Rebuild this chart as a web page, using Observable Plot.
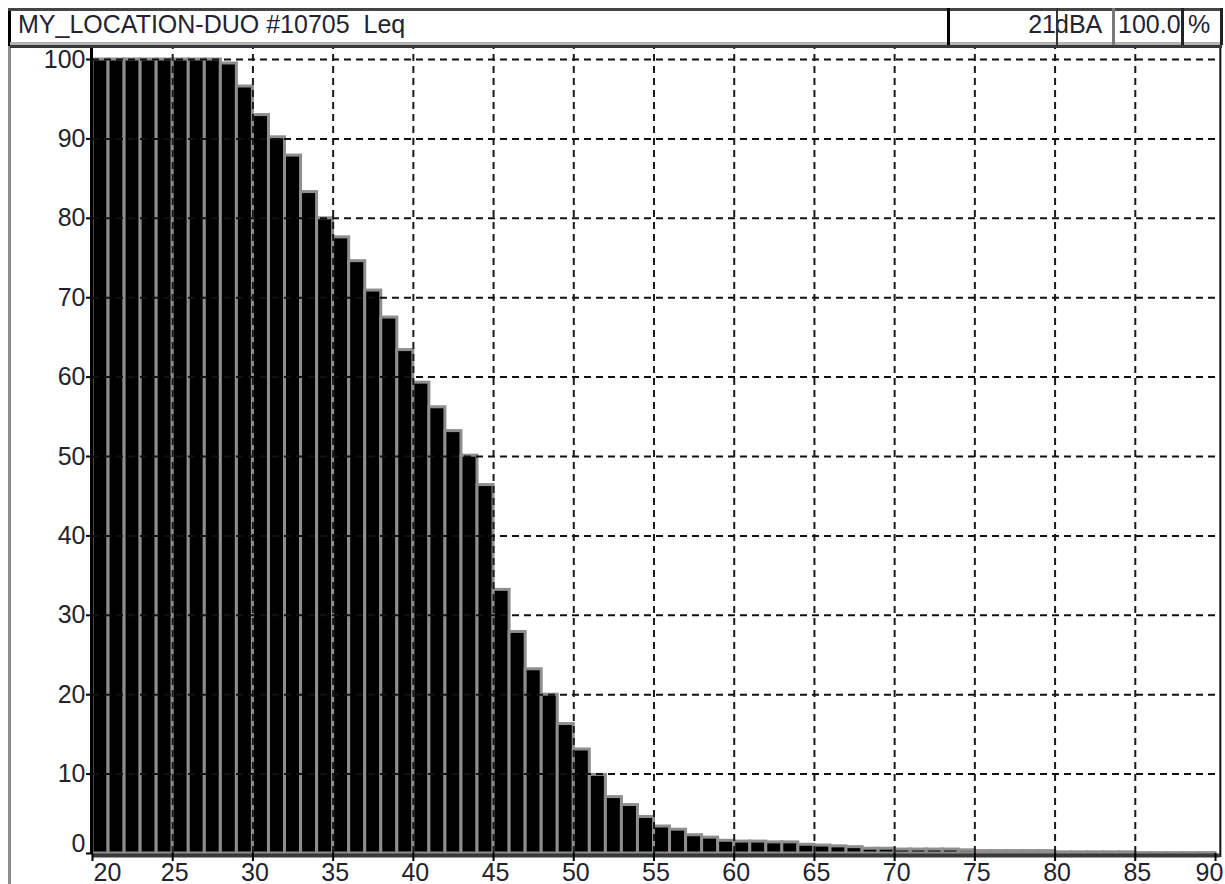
<!DOCTYPE html>
<html>
<head>
<meta charset="utf-8">
<script src="https://cdn.jsdelivr.net/npm/d3@7"></script>
<script src="https://cdn.jsdelivr.net/npm/@observablehq/plot@0.6"></script>
<style>
  html, body { margin: 0; padding: 0; background: #fff; }
  body { width: 1225px; height: 884px; position: relative; overflow: hidden;
         font-family: "Liberation Sans", Arial, sans-serif; }
  #header { position: relative; height: 46px; }
  .ln { position: absolute; z-index: 3; }
  .tx { position: absolute; font-size: 25px; line-height: 25px; color: #23232f; white-space: pre; z-index: 2; }
  #chart { position: relative; }
</style>
</head>
<body>
<div id="header"></div>
<div id="chart"></div>
<script>
// ---- data ----
const title = "MY_LOCATION-DUO #10705  Leq";
const levelValue = "21";
const levelUnit = "dBA";
const percentValue = "100.0";
const percentUnit = "%";

const levels = [20,21,22,23,24,25,26,27,28,29,30,31,32,33,34,35,36,37,38,39,
                40,41,42,43,44,45,46,47,48,49,50,51,52,53,54,55,56,57,58,59,
                60,61,62,63,64,65,66,67,68,69,70,71,72,73,74,75,76,77,78,79,
                80,81,82,83,84,85,86,87,88,89];
const cumulativePct = [100,100,100,100,100,100,100,100,99.5,96.6,
                       93.0,90.2,87.9,83.3,80.0,77.6,74.6,70.9,67.5,63.4,
                       59.3,56.2,53.2,50.1,46.4,33.2,27.9,23.2,20.0,16.3,
                       13.1,9.9,7.1,6.1,4.6,3.4,3.0,2.3,2.0,1.6,
                       1.5,1.5,1.4,1.4,1.1,1.0,0.9,0.8,0.6,0.6,
                       0.5,0.5,0.5,0.5,0.4,0.3,0.3,0.3,0.3,0.3,
                       0.15,0.15,0.15,0.15,0.15,0.05,0.05,0.05,0.05,0.05];
const xTicks = [20,25,30,35,40,45,50,55,60,65,70,75,80,85,90];
const yTicks = [0,10,20,30,40,50,60,70,80,90,100];

const data = levels.map((db, i) => ({db, pct: cumulativePct[i]}));

// ---- header (HTML) ----
const header = document.getElementById("header");
function line(l, t, w, h, c) {
  const d = document.createElement("div");
  d.className = "ln";
  Object.assign(d.style, {left: l + "px", top: t + "px", width: w + "px", height: h + "px", background: c});
  document.body.appendChild(d);
}
function text(str, opts) {
  const d = document.createElement("div");
  d.className = "tx";
  d.textContent = str;
  Object.assign(d.style, opts);
  header.appendChild(d);
}
text(title, {left: "18px", top: "12px"});
text(levelValue, {right: (1225 - 1056) + "px", top: "12px", textAlign: "right"});
text(levelUnit, {left: "1055px", top: "12px"});
text(percentValue, {left: "1118px", top: "12px"});
text(percentUnit, {left: "1188px", top: "12px"});

// frame lines
line(8, 8, 3, 876, "#8c8c8c");     // left gray rail
line(8, 8, 3, 38, "#000");         // header left edge
line(8, 8, 1214, 3, "#454545");    // header top
line(10, 42, 1212, 3, "#b4b4b4");  // header bottom light
line(10, 45, 1212, 3, "#383838");  // plot top frame
line(947, 8, 3, 37, "#000");
line(1056, 8, 2, 37, "#333");
line(1112, 8, 3, 37, "#7a7a7a");
line(1181, 8, 3, 37, "#222");
line(1220, 8, 3, 37, "#222");

// ---- chart (Observable Plot) ----
const font = "'Liberation Sans', Arial, sans-serif";
const chart = Plot.plot({
  width: 1225,
  height: 838,
  marginLeft: 92,
  marginRight: 10,
  marginTop: 13,
  marginBottom: 31,
  x: {domain: [20, 90], axis: null},
  y: {domain: [0, 100], axis: null},
  style: {fontFamily: font, fontSize: "25px", background: "transparent", color: "#111", overflow: "visible"},
  marks: [
    Plot.rect(data, {x1: "db", x2: d => d.db + 1, y1: 0, y2: "pct",
      fill: "#000", stroke: "#8e8e8e", strokeWidth: 3}),
    Plot.ruleY(yTicks.filter(v => v > 0), {x1: 20, x2: 90.3,
      stroke: "#111", strokeWidth: 2, strokeDasharray: "7,5"}),
    Plot.ruleX(xTicks.filter(v => v > 20 && v < 90), {y1: 0, y2: 101.5,
      stroke: "#1a1a1a", strokeWidth: 2, strokeDasharray: "7,5"}),
    Plot.ruleX([20], {y1: 0, y2: 101.5, stroke: "#000", strokeWidth: 3, dx: -1}),
    Plot.ruleX([90.3], {y1: -0.5, y2: 101.5, stroke: "#111", strokeWidth: 2}),
    Plot.ruleY([0], {x1: 20, x2: 90.3, stroke: "#3a3a3a", strokeWidth: 4, dy: 2}),
    Plot.axisX({ticks: xTicks, tickSize: 8, tickFormat: () => "", label: null, stroke: "#000", strokeWidth: 2}),
    Plot.axisY({ticks: yTicks, tickSize: 6, tickPadding: 1, label: null, stroke: "#000", strokeWidth: 2,
      fill: "#23232f", fontSize: 25, tickFormat: d => d === 0 ? "" : String(d)}),
    Plot.text(yTicks.filter(v => v === 0), {frameAnchor: "left", y: d => d, text: d => String(d),
      textAnchor: "end", dx: -7, dy: -10, fontSize: 25, fill: "#23232f"}),
    Plot.text(xTicks.slice(0, 1), {x: d => d, frameAnchor: "bottom", lineAnchor: "top", dy: 10, dx: 1,
      textAnchor: "start", text: d => String(d), fontSize: 25, fill: "#23232f"}),
    Plot.text(xTicks.slice(1, -1), {x: d => d, frameAnchor: "bottom", lineAnchor: "top", dy: 10, dx: 2,
      textAnchor: "middle", text: d => String(d), fontSize: 25, fill: "#23232f"}),
    Plot.text(xTicks.slice(-1), {x: d => d, frameAnchor: "bottom", lineAnchor: "top", dy: 10, dx: -6,
      textAnchor: "middle", text: d => String(d), fontSize: 25, fill: "#23232f"})
  ]
});
document.getElementById("chart").appendChild(chart);
</script>
</body>
</html>
